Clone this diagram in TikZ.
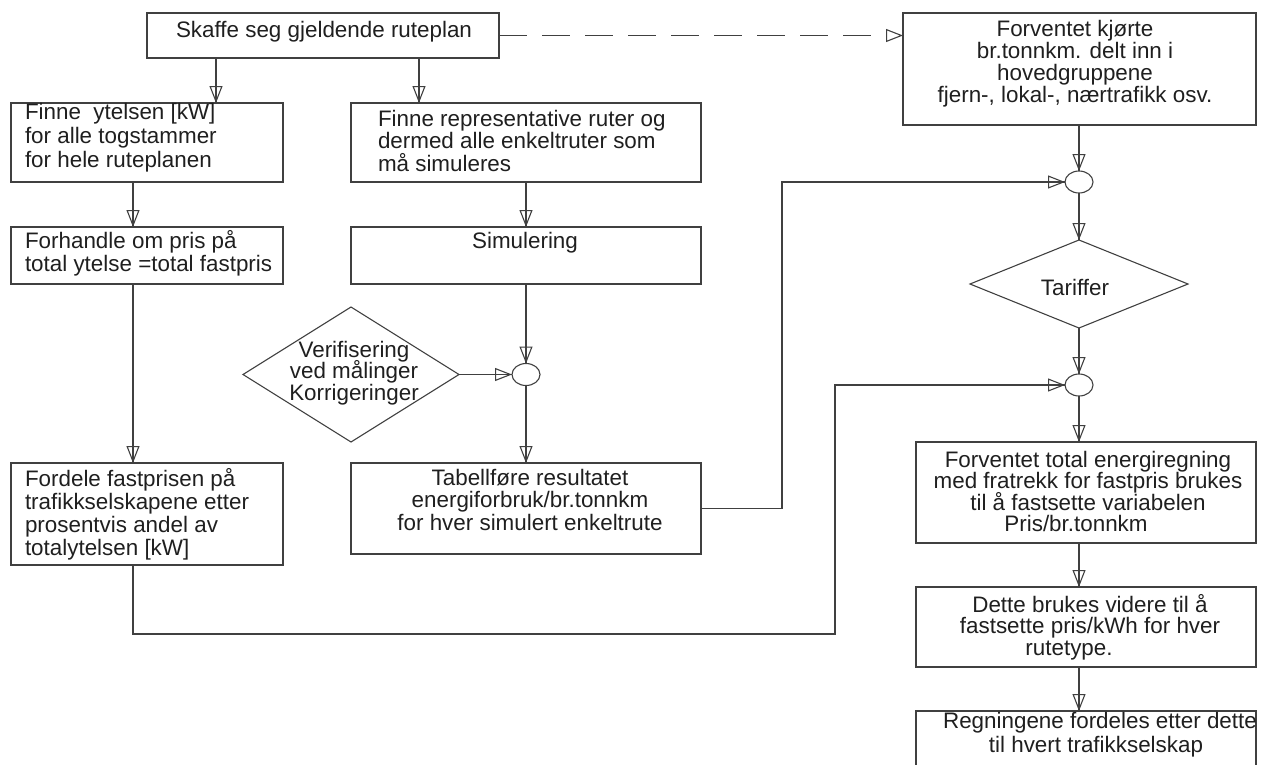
\documentclass[tikz,border=0pt]{standalone}
\usepackage{fontspec}
\setmainfont{Liberation Sans}
\usetikzlibrary{shapes.geometric,arrows.meta}

% text font with a fixed baseline distance
\newcommand\flowfont[1]{\fontsize{22.4pt}{#1}\selectfont\lineskiplimit=-50pt\relax}
% fixed height of the first line, so that each text block hangs from its top
\newcommand\topstrut{\vrule height 21pt depth 0pt width 0pt\relax}

\begin{document}
\begin{tikzpicture}[x=1pt,y=-1pt,
  ln/.style={draw=black!75, line width=1.1pt},
  box/.style={ln, rectangle, inner sep=0pt, outer sep=0pt},
  dia/.style={ln, diamond, inner sep=0pt, outer sep=0pt},
  junc/.style={ln, ellipse, inner sep=0pt, outer sep=0pt, minimum width=28pt, minimum height=22pt},
  txt/.style={inner sep=0pt, outer sep=0pt, text=black!88, font=\flowfont{23pt}},
  flow/.style={ln, postaction={draw=black!75, line width=1.1pt,
    -{Triangle[open, length=17pt, width=13pt]}}},
]
\useasboundingbox (0,0) rectangle (1261,764);

% boxes
\node[box, minimum width=352pt, minimum height=45pt]  (skaffe) at (323,35.5) {};
\node[box, minimum width=353pt, minimum height=112pt] (plan)   at (1079.5,69) {};
\node[box, minimum width=272pt, minimum height=79pt]  (ytelse) at (147,142.5) {};
\node[box, minimum width=272pt, minimum height=57pt]  (forh)   at (147,255.5) {};
\node[box, minimum width=272pt, minimum height=102pt] (fordel) at (147,514) {};
\node[box, minimum width=350pt, minimum height=79pt]  (repr)   at (526,142.5) {};
\node[box, minimum width=350pt, minimum height=57pt]  (simul)  at (526,255.5) {};
\node[box, minimum width=350pt, minimum height=91pt]  (tabell) at (526,508.5) {};
\node[box, minimum width=340pt, minimum height=101pt] (forv)   at (1086,492.5) {};
\node[box, minimum width=340pt, minimum height=80pt]  (dette)  at (1086,627) {};
\node[box, minimum width=340pt, minimum height=79pt]  (regn)   at (1086,750.5) {};

% decisions and junctions
\node[dia, minimum width=216pt, minimum height=135pt] (verif)  at (351,374.5) {};
\node[dia, minimum width=218pt, minimum height=88pt]  (tariff) at (1079,284) {};
\node[junc] (j1)  at (526,374.5) {};
\node[junc] (jr1) at (1079,182) {};
\node[junc] (jr2) at (1079,385) {};

% texts
\node[txt, anchor=north] (tskaffe) at (324,16) {\topstrut Skaffe seg gjeldende ruteplan};
\node[txt, anchor=north, align=center, font=\flowfont{22pt}] (tplan) at (1075,15)
  {\topstrut Forventet kjørte\\br.tonnkm. delt inn i\\hovedgruppene\\fjern-, lokal-, nærtrafikk osv.};
\node[txt, anchor=north west, align=left, font=\flowfont{24pt}] (tytelse) at (25,98)
  {\topstrut Finne\ \ ytelsen [kW]\\for alle togstammer\\for hele ruteplanen};
\node[txt, anchor=north west, align=left] (tforh) at (25,227)
  {\topstrut Forhandle om pris på\\total ytelse =total fastpris};
\node[txt, anchor=north west, align=left] (tfordel) at (25,465)
  {\topstrut Fordele fastprisen på\\trafikkselskapene etter\\prosentvis andel av\\totalytelsen [kW]};
\node[txt, anchor=north west, align=left, font=\flowfont{22.5pt}] (trepr) at (378,105)
  {\topstrut Finne representative ruter og\\dermed alle enkeltruter som\\må simuleres};
\node[txt, anchor=north] (tsimul) at (525,227) {\topstrut Simulering};
\node[txt, anchor=north, align=center, font=\flowfont{21.5pt}] (tverif) at (354,336)
  {\topstrut Verifisering\\ved målinger\\Korrigeringer};
\node[txt, anchor=north, align=center, font=\flowfont{22.5pt}] (ttabell) at (530,464)
  {\topstrut Tabellføre resultatet\\energiforbruk/br.tonnkm\\for hver simulert enkeltrute};
\node[txt, anchor=north] (ttariff) at (1075,274) {\topstrut Tariffer};
\node[txt, anchor=north, align=center, font=\flowfont{21.5pt}] (tforv) at (1088,446)
  {\topstrut Forventet total energiregning\\med fratrekk for fastpris brukes\\til å fastsette variabelen\hspace*{22pt}\\Pris/br.tonnkm\hspace*{24pt}};
\node[txt, anchor=north, align=center, font=\flowfont{21.5pt}] (tdette) at (1090,591)
  {\topstrut Dette brukes videre til å\\fastsette pris/kWh for hver\hspace*{32pt}\\rutetype.\hspace*{42pt}};
\node[txt, anchor=north, align=center, font=\flowfont{24pt}] (tregn) at (1100,707)
  {\topstrut Regningene fordeles etter dette\\til hvert trafikkselskap\hspace*{8pt}};

% column positions of the vertical connectors
\coordinate (xa) at (216,0);
\coordinate (xb) at (419,0);
\coordinate (xc) at (133,0);
\coordinate (xf) at (782,0);
\coordinate (bend) at (835,634);

% connectors
\draw[ln, dash pattern=on 28pt off 15pt, -{Triangle[open, length=17pt, width=13pt]}]
  (skaffe.east) -- (skaffe.east -| plan.west);
\draw[flow] (skaffe.south -| xa) -- (ytelse.north -| xa);
\draw[flow] (skaffe.south -| xb) -- (repr.north -| xb);
\draw[flow] (ytelse.south -| xc) -- (forh.north -| xc);
\draw[flow] (forh.south -| xc) -- (fordel.north -| xc);
\draw[flow] (repr.south) -- (simul.north);
\draw[flow] (simul.south -| j1) -- (j1.north);
\draw[flow] (verif.east) -- (j1.west);
\draw[flow] (j1.south) -- (tabell.north -| j1);
\draw[flow] (tabell.east) -| (xf |- jr1.west) -- (jr1.west);
\draw[flow] (plan.south -| jr1) -- (jr1.north);
\draw[flow] (jr1.south) -- (tariff.north);
\draw[flow] (tariff.south) -- (jr2.north);
\draw[flow] (fordel.south -| xc) |- (bend) |- (jr2.west);
\draw[flow] (jr2.south) -- (forv.north -| jr2);
\draw[flow] (forv.south -| jr2) -- (dette.north -| jr2);
\draw[flow] (dette.south -| jr2) -- (regn.north -| jr2);
\end{tikzpicture}
\end{document}
